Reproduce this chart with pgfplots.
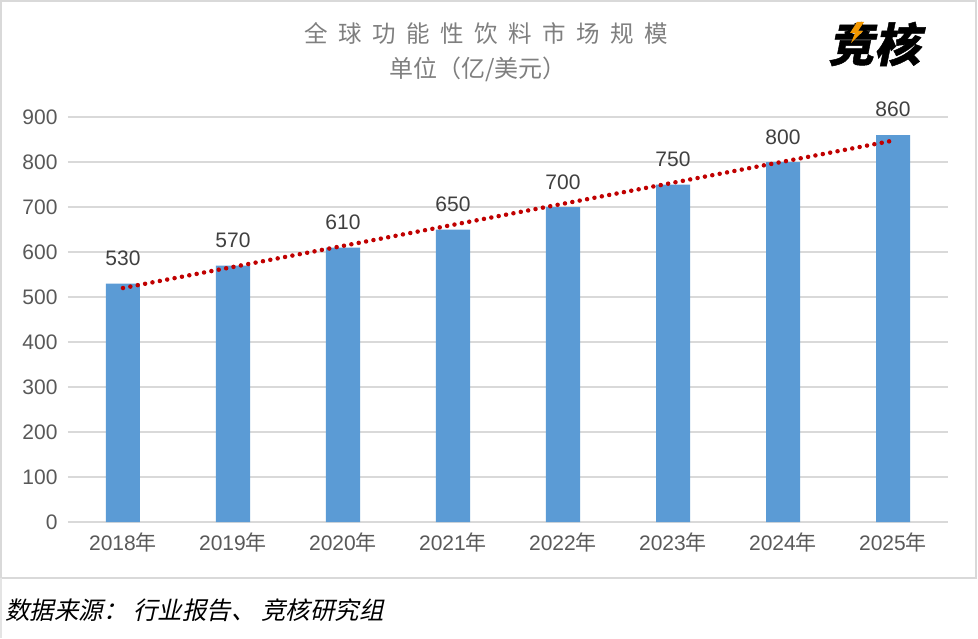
\documentclass[border=0pt]{standalone}
\usepackage{fontspec}
\usepackage{pgfplots}
\usepackage{pgfplotstable}
\pgfplotsset{compat=1.18}
\setmainfont{Liberation Sans}
\newfontfamily\cjk{Noto Sans CJK SC}
\newfontfamily\cjktitle[LetterSpace=45]{Noto Sans CJK SC}
\newfontfamily\cjkit[FakeSlant=0.22]{Noto Sans CJK SC}
\newfontfamily\logofont[FakeSlant=0.2,FakeBold=1]{Noto Sans CJK SC}

\definecolor{barblue}{HTML}{5B9BD5}
\definecolor{trendred}{HTML}{C00000}
\definecolor{gridgray}{HTML}{D9D9D9}
\definecolor{ticktext}{HTML}{595959}
\definecolor{labeltext}{HTML}{404040}
\definecolor{titlegray}{HTML}{7F7F7F}
\definecolor{boltorange}{HTML}{F39800}

% market size, 100 million USD
\pgfplotstableread{
x year value
0 2018 530
1 2019 570
2 2020 610
3 2021 650
4 2022 700
5 2023 750
6 2024 800
7 2025 860
}\market

\begin{document}
\begin{tikzpicture}[x=1pt,y=1pt]
\path[use as bounding box] (0,0) rectangle (978,638);
\fill[white] (0,0) rectangle (978,638);
\draw[gridgray, line width=1.5pt] (1,60) rectangle (976,637);
\draw[gridgray!70, line width=1.5pt] (1,0) -- (1,60);

\node[anchor=west, inner sep=0, text=titlegray, font=\cjktitle\fontsize{23.5}{26}\selectfont] at (304,604) {全球功能性饮料市场规模};
\node[anchor=west, inner sep=0, text=titlegray, font=\cjk\fontsize{24}{26}\selectfont] at (389,569) {单位（亿/美元）};

\node[anchor=west, inner sep=0, font=\logofont\bfseries\fontsize{46}{46}\selectfont] at (828,594) {竞核};
\fill[boltorange] (857,616) -- (864,616) -- (858,607) -- (863,607) -- (851,595) -- (855,605) -- (850,605) -- cycle;

\node[anchor=west, inner sep=0, font=\cjkit\fontsize{24.5}{30}\selectfont] at (5,28) {数据来源： 行业报告、 竞核研究组};

\begin{axis}[
  at={(68pt,116pt)}, anchor=south west, scale only axis,
  width=880pt, height=405pt,
  xmin=-0.5, xmax=7.5, ymin=0, ymax=900,
  axis line style={draw=none},
  major tick length=0pt,
  ymajorgrids, grid style={gridgray, line width=1.5pt},
  ytick={0,100,...,900},
  xtick={0,...,7},
  xticklabels={2018{\cjk 年},2019{\cjk 年},2020{\cjk 年},2021{\cjk 年},2022{\cjk 年},2023{\cjk 年},2024{\cjk 年},2025{\cjk 年}},
  tick label style={text=ticktext, font=\fontsize{21}{24}\selectfont},
  /pgf/number format/assume math mode=true,
  yticklabel style={xshift=-7pt},
  xticklabel style={yshift=-7pt},
  clip=false,
]
\addplot[ybar, bar width=34pt, fill=barblue, draw=none,
  nodes near coords,
  nodes near coords style={text=labeltext, font=\fontsize{21}{24}\selectfont, anchor=base, yshift=18pt}]
  table[x=x, y=value] {\market};
\addplot[no marks, sharp plot, trendred, line width=4.5pt, line cap=round, dash pattern=on 0pt off 7.5pt]
  table[x=x, y={create col/linear regression={x=x, y=value}}] {\market};
\end{axis}
\end{tikzpicture}
\end{document}
